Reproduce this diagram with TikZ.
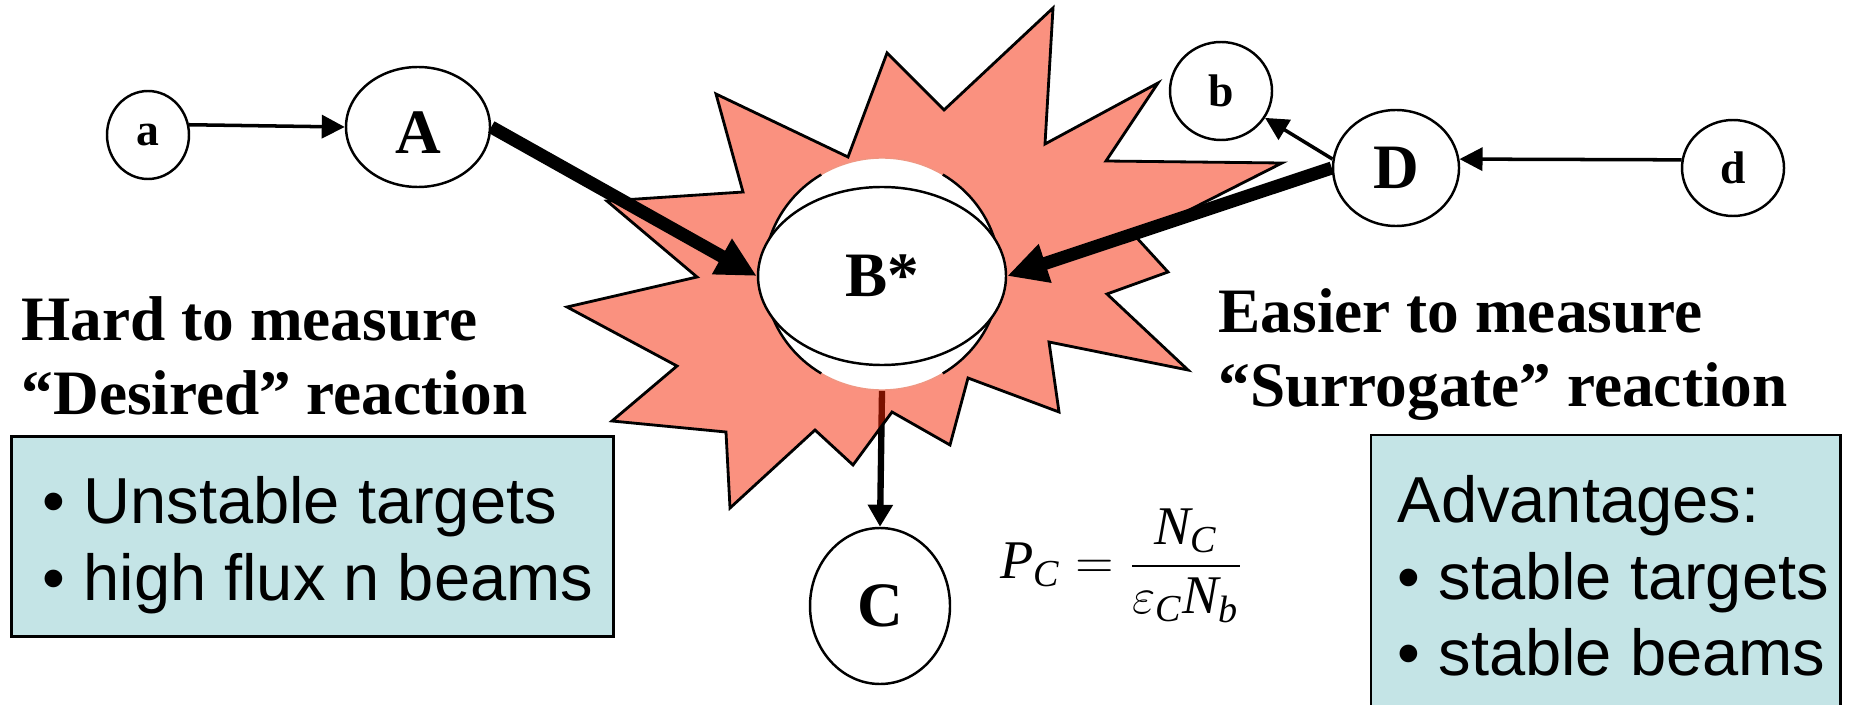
\documentclass[tikz,border=0pt]{standalone}
\usepackage{amsmath}
\usepackage{fontspec}
\setmainfont{Liberation Serif}
\setsansfont{Liberation Sans}
\usetikzlibrary{arrows.meta,backgrounds,shapes.geometric}
\definecolor{ink}{RGB}{0,0,0}
\definecolor{blast}{RGB}{245,35,0}
\definecolor{rim}{RGB}{240,150,130}
\definecolor{boxfill}{RGB}{196,228,230}
\tikzset{
  nucl/.style={ellipse,draw=ink,line width=0.7pt,fill=white,inner sep=0pt,
    font=\fontsize{18}{20}\selectfont\bfseries},
  lite/.style={nucl,font=\fontsize{13}{15}\selectfont\bfseries},
  glow/.style={ellipse,draw=rim,line width=0.4pt,fill=white,inner sep=0pt},
  arr/.style={-{Triangle[length=2.3mm,width=2.3mm]},line width=1pt},
  hvy/.style={-{Triangle[length=4mm,width=3.8mm]},line width=3.7pt},
  mid/.style={-{Triangle[length=2.2mm,width=2.4mm]},line width=1.8pt},
  head/.style={font=\fontsize{18}{21}\selectfont\bfseries,align=left,
    inner sep=0pt,anchor=north west},
  infobox/.style={draw=ink,line width=0.8pt,fill=boxfill,inner sep=0pt,anchor=north west},
  boxtxt/.style={font=\sffamily\fontsize{18.5}{21.7}\selectfont,align=left,
    inner sep=0pt,anchor=north west},
}

\begin{document}
\begin{tikzpicture}
\useasboundingbox (0,0) rectangle (18.51,7.04);

\node[glow,minimum width=2.36cm,minimum height=2.32cm] (Bglow) at (8.82,4.30) {};
\foreach \s in {14,121,194,301}{
  \draw[line width=0.7pt] ([shift={(\s:1.18 and 1.16)}]Bglow.center)
    arc[start angle=\s,delta angle=45,x radius=1.18,y radius=1.16];
}
\node[nucl,minimum width=2.48cm,minimum height=1.78cm] (Bs) at (8.82,4.28) {B*};

\node[lite,minimum width=0.82cm,minimum height=0.88cm] (a) at (1.48,5.69) {a};
\node[nucl,minimum width=1.44cm,minimum height=1.20cm,text height=15pt] (A) at (4.18,5.77) {A};
\node[lite,minimum width=1.02cm,minimum height=0.98cm] (b) at (12.21,6.13) {b};
\node[nucl,minimum width=1.26cm,minimum height=1.16cm] (D) at (13.96,5.36) {D};
\node[lite,minimum width=1.02cm,minimum height=0.96cm] (d) at (17.33,5.36) {d};
\node[nucl,minimum width=1.40cm,minimum height=1.56cm] (C) at (8.80,0.98) {C};

\node[anchor=west,inner sep=0pt,font=\fontsize{15.5}{18}\selectfont] (pc) at (10.00,1.38)
  {$\mathit{P}_{\mathit{C}}=\dfrac{\mathit{N}_{\mathit{C}}}{\varepsilon_{\mathit{C}}\mathit{N}_{\mathit{b}}}$};

\node[head] (hardhd) at (0.21,4.08) {Hard to measure\\“Desired” reaction};
\node[head] (easyhd) at (12.18,4.16) {Easier to measure\\“Surrogate” reaction};

\node[infobox,minimum width=6.02cm,minimum height=2.00cm] (hardbox) at (0.10,2.69) {};
\node[boxtxt] (hardtxt) at (0.42,2.28) {• Unstable targets\\• high flux n beams};
\node[infobox,draw=none,minimum width=4.67cm,minimum height=2.69cm] (advbox) at (13.71,2.69) {};
\draw[line width=0.8pt] (advbox.south west) |- (advbox.north east) -- (advbox.south east);
\node[boxtxt] (advtxt) at (13.97,2.29) {Advantages:\\• stable targets\\• stable beams};

\begin{scope}[on background layer]
  \draw[mid] (Bglow.south) -- (C.north);
  \draw[ink,line width=0.8pt,fill=blast,fill opacity=0.5]
    (10.53,6.96) -- (9.44,5.94) -- (8.87,6.51) -- (8.48,5.47) -- (7.16,6.10)
    -- (7.43,5.12) -- (6.07,5.03) -- (6.97,4.27) -- (5.67,3.97) -- (6.77,3.38)
    -- (6.12,2.83) -- (7.26,2.72) -- (7.30,1.96) -- (8.15,2.74) -- (8.53,2.39)
    -- (8.92,2.92) -- (9.50,2.59) -- (9.68,3.26) -- (10.59,2.92) -- (10.49,3.62)
    -- (11.88,3.34) -- (11.07,4.10) -- (11.68,4.32) -- (11.36,4.67) -- (12.82,5.41)
    -- (11.06,5.43) -- (11.58,6.21) -- (10.45,5.60) -- cycle;
\end{scope}

\draw[arr] (a.14) -- (A.west);
\draw[arr] (d.171) -- (D.8);
\draw[arr] (D.172) -- (b);
\draw[hvy] (A.east) -- (Bs.west);
\draw[hvy] (D.west) -- (Bs.east);
\end{tikzpicture}
\end{document}
